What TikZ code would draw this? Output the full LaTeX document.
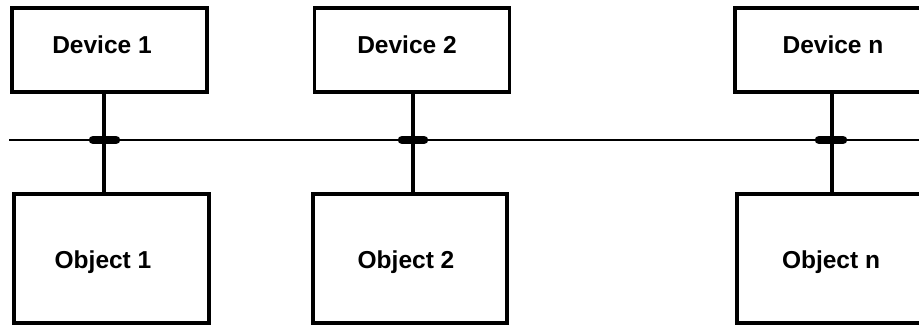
\documentclass[tikz,border=0pt]{standalone}
\usepackage{fontspec}
\setmainfont{Liberation Sans}
\begin{document}
\begin{tikzpicture}[x=1pt,y=-1pt,
  unit/.style={draw=black,line width=3.3pt,fill=white,inner sep=0pt,
    minimum width=#1},
  devbox/.style={unit=195pt,minimum height=84pt},
  objbox/.style={unit=195pt,minimum height=129pt},
  lbl/.style={font=\fontsize{24.5}{28}\selectfont\bfseries,inner sep=0pt},
  bus/.style={line width=2.8pt},
  drop/.style={line width=3.2pt},
  tap/.style={line width=8.5pt,line cap=round}]
\useasboundingbox (0,0) rectangle (919,326);
\clip (0,0) rectangle (919,326);

% bus and tap points
\coordinate (busL) at (9,140);
\coordinate (busR) at (925,140);
\coordinate (t1) at (104,140);
\coordinate (t2) at (413,140);
\coordinate (tn) at (832,140);
\draw[bus] (busL) -- (busR);

% devices on top, objects below
\node[devbox] (d1) at (109.5,50) {};
\node[devbox] (d2) at (412,50) {};
\node[devbox,minimum width=190pt] (dn) at (830,50) {};
\node[objbox] (o1) at (111.5,258.5) {};
\node[objbox,minimum width=194pt] (o2) at (410,258.5) {};
\node[objbox,minimum width=188pt] (on) at (831,258.5) {};

\node[lbl] (d1t) at (102,45) {Device 1};
\node[lbl] (d2t) at (407,45) {Device 2};
\node[lbl] (dnt) at (833,45) {Device n};
\node[lbl] (o1t) at (103,262) {Object 1};
\node[lbl] (o2t) at (406,262) {Object 2};
\node[lbl] (ont) at (831,262) {Object n};

% drops from each device through the bus to its object
\draw[drop] (d1.south -| t1) -- (o1.north -| t1);
\draw[drop] (d2.south -| t2) -- (o2.north -| t2);
\draw[drop] (dn.south -| tn) -- (on.north -| tn);

% taps on the bus
\draw[tap] ([xshift=-11pt]t1) -- ([xshift=12pt]t1);
\draw[tap] ([xshift=-11pt]t2) -- ([xshift=11pt]t2);
\draw[tap] ([xshift=-13pt]tn) -- ([xshift=11pt]tn);
\end{tikzpicture}
\end{document}
